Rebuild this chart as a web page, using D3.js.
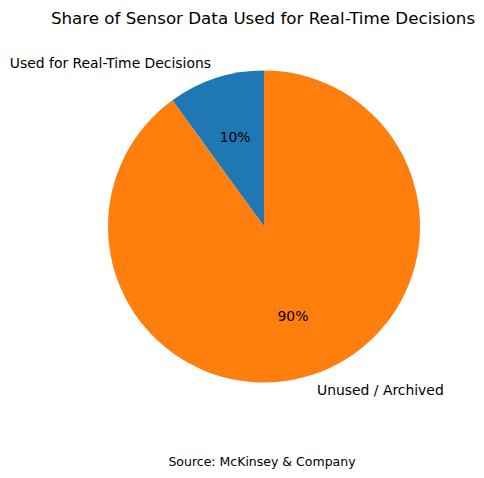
<!DOCTYPE html>
<html>
<head>
<meta charset="utf-8">
<script src="https://cdn.jsdelivr.net/npm/d3@7"></script>
<style>
  body { margin: 0; background: #fff; }
  svg { font-family: "DejaVu Sans", sans-serif; }
</style>
</head>
<body>
<svg id="chart" width="484" height="478"></svg>
<script>
// chart data
const categories = ['Used for Real-Time Decisions', 'Unused / Archived']
const shares = [10, 90]
const colors = ['#1f77b4', '#ff7f0e']

const title = 'Share of Sensor Data Used for Real-Time Decisions'
const source = 'Source: McKinsey & Company'

const svg = d3.select('#chart')
const cx = 264, cy = 226.5, r = 156

svg.append('text')
    .attr('x', 263)
    .attr('y', 18)
    .attr('text-anchor', 'middle')
    .attr('dominant-baseline', 'central')
    .attr('font-size', '16.7px')
    .text(title)

// matplotlib-style: start at top, run counterclockwise
let pie = d3.pie()
    .sort(null)
    .startAngle(0)
    .endAngle(-2 * Math.PI)
    .value(d => d.value)

let slices = pie(categories.map((c, i) => ({name: c, value: shares[i], color: colors[i]})))

let arc = d3.arc().innerRadius(0).outerRadius(r)

let g = svg.append('g').attr('transform', `translate(${cx},${cy})`)

g.selectAll('path')
    .data(slices)
    .join('path')
    .attr('d', arc)
    .attr('fill', d => d.data.color)

// position at fraction of radius along mid angle
function at(d, frac) {
    let a = (d.startAngle + d.endAngle) / 2
    return [Math.sin(a) * r * frac, -Math.cos(a) * r * frac]
}

g.selectAll('text.pct')
    .data(slices)
    .join('text')
    .attr('class', 'pct')
    .attr('x', d => at(d, 0.6)[0])
    .attr('y', d => at(d, 0.6)[1])
    .attr('text-anchor', 'middle')
    .attr('dominant-baseline', 'central')
    .attr('font-size', '13.9px')
    .text(d => Math.round(d.data.value) + '%')

g.selectAll('text.lbl')
    .data(slices)
    .join('text')
    .attr('class', 'lbl')
    .attr('x', d => at(d, 1.1)[0])
    .attr('y', d => at(d, 1.1)[1])
    .attr('text-anchor', d => at(d, 1.1)[0] < 0 ? 'end' : 'start')
    .attr('dominant-baseline', 'central')
    .attr('font-size', '13.9px')
    .text(d => d.data.name)

svg.append('text')
    .attr('x', 262)
    .attr('y', 461)
    .attr('text-anchor', 'middle')
    .attr('dominant-baseline', 'central')
    .attr('font-size', '12.5px')
    .text(source)
</script>
</body>
</html>
